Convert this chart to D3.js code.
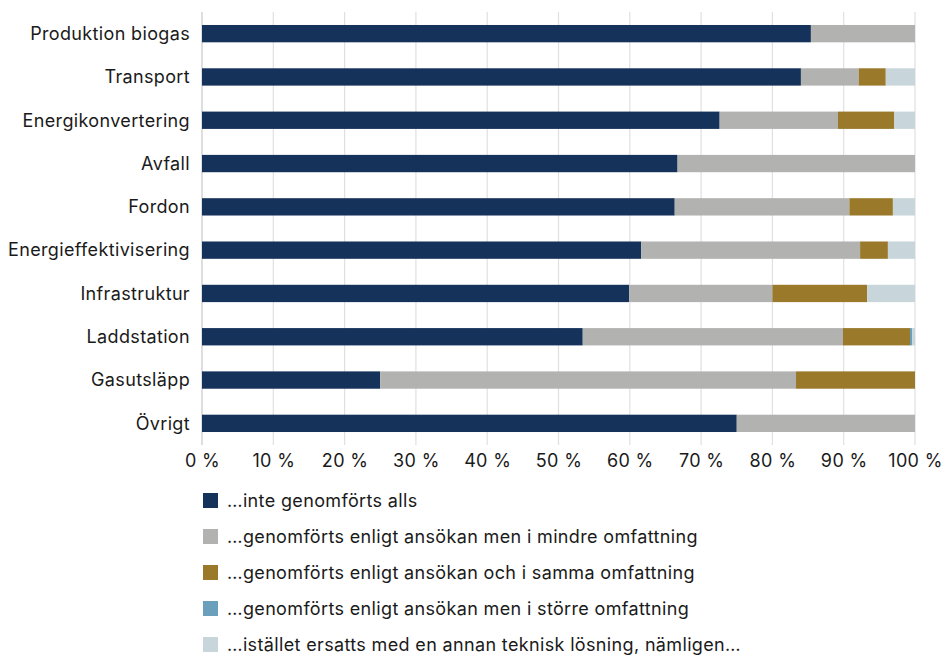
<!DOCTYPE html>
<html>
<head>
<meta charset="utf-8">
<script src="https://cdn.jsdelivr.net/npm/d3@7"></script>
<style>
  html, body { margin: 0; padding: 0; background: #fff; }
  svg { display: block; font-family: "Inter", "Roboto", sans-serif; }
</style>
</head>
<body>
<svg id="chart" width="943" height="655"></svg>
<script>
// Project categories, top to bottom
const categories = [
  "Produktion biogas", "Transport", "Energikonvertering", "Avfall", "Fordon",
  "Energieffektivisering", "Infrastruktur", "Laddstation", "Gasutsläpp", "Övrigt"
];

// Share of projects (%) per outcome, one value per category
const inteGenomfort    = [85.4, 84.0, 72.6, 66.7, 66.3, 61.6, 59.9, 53.4, 25.0, 75.0];
const mindreOmfattning = [14.6, 8.1, 16.6, 33.3, 24.5, 30.7, 20.1, 36.5, 58.3, 25.0];
const sammaOmfattning  = [0.0, 3.8, 7.9, 0.0, 6.1, 3.9, 13.3, 9.4, 16.7, 0.0];
const storreOmfattning = [0.0, 0.0, 0.0, 0.0, 0.0, 0.0, 0.0, 0.3, 0.0, 0.0];
const ersattsAnnan     = [0.0, 4.1, 2.9, 0.0, 3.1, 3.8, 6.7, 0.4, 0.0, 0.0];

const seriesNames = [
  "…inte genomförts alls",
  "…genomförts enligt ansökan men i mindre omfattning",
  "…genomförts enligt ansökan och i samma omfattning",
  "…genomförts enligt ansökan men i större omfattning",
  "…istället ersatts med en annan teknisk lösning, nämligen…"
];
const seriesColors = ["#15325a", "#b2b2b1", "#9a7a2a", "#6aa0bb", "#c8d6dc"];
const xTicks = [0, 10, 20, 30, 40, 50, 60, 70, 80, 90, 100];

const seriesValues = [inteGenomfort, mindreOmfattning, sammaOmfattning, storreOmfattning, ersattsAnnan];
const keys = seriesNames.map((_, i) => "s" + i);
const rows = categories.map((c, j) => {
  const r = { category: c };
  keys.forEach((k, i) => { r[k] = seriesValues[i][j]; });
  return r;
});

const svg = d3.select("#chart");
const margin = { left: 202, right: 28, top: 12, bottom: 210 };
const W = 943, H = 655;
const fontSize = 18, tracking = "0.35px", textColor = "#1a1a1a";

const x = d3.scaleLinear().domain([0, 100]).range([margin.left, W - margin.right]);
const y = d3.scaleBand().domain(categories).range([margin.top, H - margin.bottom]).paddingInner(0.6).paddingOuter(0.3);

// vertical gridlines
svg.append("g")
  .selectAll("line")
  .data(xTicks)
  .join("line")
  .attr("x1", d => x(d)).attr("x2", d => x(d))
  .attr("y1", margin.top).attr("y2", H - margin.bottom)
  .attr("stroke", d => d === 0 ? "#c8c8c8" : "#e0e0e0")
  .attr("stroke-width", 1.2);

// stacked bars
const stack = d3.stack().keys(keys)(rows);
svg.append("g")
  .selectAll("g")
  .data(stack)
  .join("g")
  .attr("fill", (d, i) => seriesColors[i])
  .selectAll("rect")
  .data(d => d)
  .join("rect")
  .attr("x", d => x(d[0]))
  .attr("y", d => y(d.data.category))
  .attr("width", d => Math.max(0, x(d[1]) - x(d[0])))
  .attr("height", y.bandwidth());

// category labels
svg.append("g")
  .selectAll("text")
  .data(categories)
  .join("text")
  .attr("x", margin.left - 12)
  .attr("y", d => y(d) + y.bandwidth() / 2)
  .attr("dy", "0.35em")
  .attr("text-anchor", "end")
  .attr("fill", textColor)
  .attr("font-size", fontSize)
  .attr("letter-spacing", tracking)
  .text(d => d);

// x axis tick labels
const xAxis = d3.axisBottom(x).tickValues(xTicks).tickSize(0).tickFormat(d => d + " %");
const gx = svg.append("g")
  .attr("transform", `translate(0,${H - margin.bottom + 6})`)
  .call(xAxis);
gx.select(".domain").remove();
gx.selectAll("text")
  .attr("font-size", fontSize)
  .attr("letter-spacing", tracking)
  .attr("fill", textColor)
  .attr("font-family", "Inter, Roboto, sans-serif");

// legend
const legend = svg.append("g").attr("transform", "translate(203,493)");
const item = legend.selectAll("g")
  .data(seriesNames)
  .join("g")
  .attr("transform", (d, i) => `translate(0,${i * 36})`);
item.append("rect")
  .attr("width", 15).attr("height", 15)
  .attr("fill", (d, i) => seriesColors[i]);
item.append("text")
  .attr("x", 24).attr("y", 7.5).attr("dy", "0.35em")
  .attr("font-size", fontSize)
  .attr("letter-spacing", tracking)
  .attr("fill", textColor)
  .text(d => d);
</script>
</body>
</html>
